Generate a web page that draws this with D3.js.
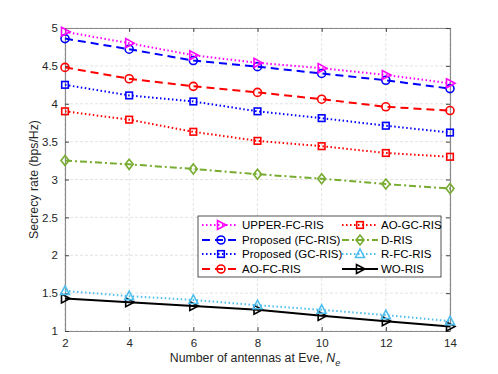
<!DOCTYPE html>
<html><head><meta charset="utf-8">
<script src="https://cdn.jsdelivr.net/npm/d3@7/dist/d3.min.js"></script>
<style>body{margin:0;background:#fff}svg{display:block}text{font-family:"Liberation Sans",Arial,sans-serif}</style>
</head><body><svg id="c" width="498" height="374"></svg>
<script>
const xValues = [2,4,6,8,10,12,14];
const xTicks = [2,4,6,8,10,12,14];
const yTicks = [1,1.5,2,2.5,3,3.5,4,4.5,5];
const seriesNames = ["UPPER-FC-RIS","Proposed (FC-RIS)","Proposed (GC-RIS)","AO-FC-RIS","AO-GC-RIS","D-RIS","R-FC-RIS","WO-RIS"];
const upperFC = [4.95,4.80,4.64,4.54,4.47,4.38,4.27];
const propFC  = [4.86,4.72,4.57,4.49,4.40,4.31,4.20];
const propGC  = [4.25,4.11,4.03,3.90,3.81,3.71,3.62];
const aoFC    = [4.48,4.33,4.23,4.15,4.06,3.96,3.91];
const aoGC    = [3.90,3.79,3.63,3.51,3.44,3.35,3.30];
const dRIS    = [3.25,3.20,3.14,3.07,3.01,2.94,2.88];
const rFC     = [1.53,1.46,1.41,1.34,1.28,1.21,1.13];
const woRIS   = [1.43,1.38,1.33,1.28,1.20,1.13,1.06];

const styles = [
 {data:upperFC,color:"#FF00FF",dash:"1.5,2.5",marker:"triR"},
 {data:propFC,color:"#0000FF",dash:"8,5",marker:"circle"},
 {data:propGC,color:"#0000FF",dash:"1.5,2.5",marker:"square"},
 {data:aoFC,color:"#FF0000",dash:"8,5",marker:"circle"},
 {data:aoGC,color:"#FF0000",dash:"1.5,2.5",marker:"square"},
 {data:dRIS,color:"#77AC30",dash:"7,3,2,3",marker:"diamond"},
 {data:rFC,color:"#4DBEEE",dash:"1.5,2.5",marker:"triU"},
 {data:woRIS,color:"#000000",dash:null,marker:"triR"}
];

const svg = d3.select("#c");
const L=65,R=450,T=28,B=331;
const x = d3.scaleLinear().domain([2,14]).range([L,R]);
const y = d3.scaleLinear().domain([1,5]).range([B,T]);

// grid
const g = svg.append("g");
g.selectAll(".gx").data(xTicks).enter().append("line")
 .attr("x1",d=>x(d)).attr("x2",d=>x(d)).attr("y1",T).attr("y2",B)
 .attr("stroke","#dcdcdc").attr("stroke-width",0.8).attr("stroke-dasharray","3,2");
g.selectAll(".gy").data(yTicks).enter().append("line")
 .attr("y1",d=>y(d)).attr("y2",d=>y(d)).attr("x1",L).attr("x2",R)
 .attr("stroke","#dcdcdc").attr("stroke-width",0.8).attr("stroke-dasharray","3,2");

// axes
const xAxis = d3.axisBottom(x).tickValues(xTicks).tickSizeInner(-4).tickSizeOuter(0).tickPadding(8);
const yAxis = d3.axisLeft(y).tickValues(yTicks).tickSizeInner(-4).tickSizeOuter(0).tickPadding(7).tickFormat(d3.format("~g"));
const xa = svg.append("g").attr("transform",`translate(0,${B})`).call(xAxis);
const ya = svg.append("g").attr("transform",`translate(${L},0)`).call(yAxis);
const xt = svg.append("g").attr("transform",`translate(0,${T})`).call(d3.axisTop(x).tickValues(xTicks).tickSizeInner(-4).tickSizeOuter(0).tickFormat(""));
const yr = svg.append("g").attr("transform",`translate(${R},0)`).call(d3.axisRight(y).tickValues(yTicks).tickSizeInner(-4).tickSizeOuter(0).tickFormat(""));
[xa,ya,xt,yr].forEach(a=>{
  a.select(".domain").attr("stroke","#8a8a8a").attr("stroke-width",1.2);
  a.selectAll(".tick line").attr("stroke","#444");
  a.selectAll("text").attr("font-size","11.5px").attr("fill","#262626").attr("font-family","Liberation Sans, Arial, sans-serif");
});

function drawMarker(sel, type, color, cx, cy){
  const s=4;
  if(type==="circle"){
    sel.append("circle").attr("cx",cx).attr("cy",cy).attr("r",s).attr("fill","none").attr("stroke",color).attr("stroke-width",1.6);
  } else if(type==="square"){
    sel.append("rect").attr("x",cx-s+0.7).attr("y",cy-s+0.7).attr("width",2*s-1.4).attr("height",2*s-1.4).attr("fill","none").attr("stroke",color).attr("stroke-width",1.6);
  } else if(type==="diamond"){
    sel.append("path").attr("d",`M${cx},${cy-s-1}L${cx+s},${cy}L${cx},${cy+s+1}L${cx-s},${cy}Z`).attr("fill","none").attr("stroke",color).attr("stroke-width",1.6);
  } else if(type==="triR"){
    sel.append("path").attr("d",`M${cx+s+1},${cy}L${cx-s+0.5},${cy-s-0.5}L${cx-s+0.5},${cy+s+0.5}Z`).attr("fill","none").attr("stroke",color).attr("stroke-width",1.6);
  } else if(type==="triU"){
    sel.append("path").attr("d",`M${cx},${cy-s-1}L${cx+s+0.5},${cy+s-0.5}L${cx-s-0.5},${cy+s-0.5}Z`).attr("fill","none").attr("stroke",color).attr("stroke-width",1.6);
  }
}

const line = d3.line().x((d,i)=>x(xValues[i])).y(d=>y(d));
const plot = svg.append("g");
styles.slice().reverse().forEach(s=>{
  const gg = plot.append("g");
  gg.append("path").datum(s.data).attr("d",line).attr("fill","none").attr("stroke",s.color).attr("stroke-width",2)
    .attr("stroke-dasharray",s.dash);
  s.data.forEach((v,i)=>drawMarker(gg,s.marker,s.color,x(xValues[i]),y(v)));
});

// legend
const lg = svg.append("g");
lg.append("rect").attr("x",198).attr("y",216).attr("width",243).attr("height",61).attr("fill","#fff").attr("stroke","#262626").attr("stroke-width",0.8);
const rowY=[225,240,254,269];
const cols=[{x1:202,x2:238,mx:221,tx:242},{x1:342,x2:378,mx:360,tx:381}];
seriesNames.forEach((n,i)=>{
  const c=cols[Math.floor(i/4)], ry=rowY[i%4], s=styles[i];
  lg.append("line").attr("x1",c.x1).attr("x2",c.x2).attr("y1",ry).attr("y2",ry).attr("stroke",s.color).attr("stroke-width",2).attr("stroke-dasharray",s.dash);
  drawMarker(lg,s.marker,s.color,c.mx,ry);
  lg.append("text").attr("x",c.tx).attr("y",ry+4).attr("font-size","11.5px").attr("fill","#000").text(n);
});

// labels
const xl = svg.append("text").attr("x",255).attr("y",362).attr("text-anchor","middle").attr("font-size","12.3px").attr("fill","#262626");
xl.append("tspan").text("Number of antennas at Eve, ");
xl.append("tspan").attr("font-style","italic").text("N");
xl.append("tspan").attr("font-size","9px").attr("dy",4).attr("font-style","italic").text("e");
svg.append("text").attr("transform",`translate(38,${(T+B)/2}) rotate(-90)`).attr("text-anchor","middle").attr("font-size","12.3px").attr("fill","#262626").text("Secrecy rate (bps/Hz)");
</script></body></html>
